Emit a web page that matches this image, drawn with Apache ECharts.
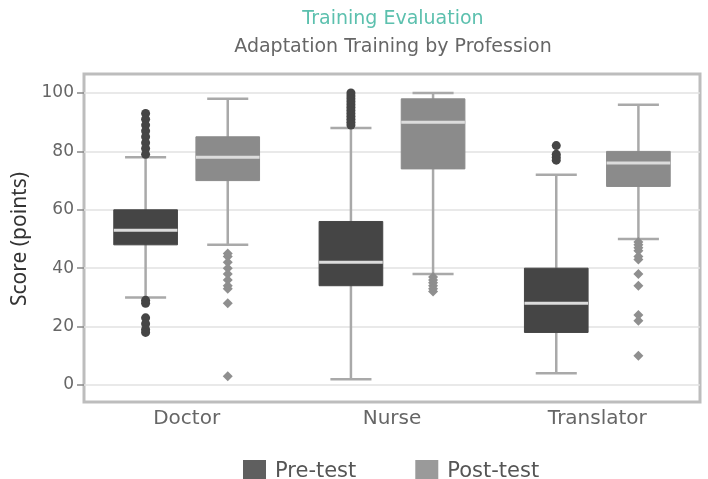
<!DOCTYPE html>
<html>
<head>
<meta charset="utf-8">
<script src="https://cdn.jsdelivr.net/npm/echarts@6/dist/echarts.min.js"></script>
<style>
  html, body { margin: 0; padding: 0; background: #fff; }
  #main { width: 708px; height: 479px; }
</style>
</head>
<body>
<div id="main"></div>
<script>
// categories on the x axis
var professions = ['Doctor', 'Nurse', 'Translator'];
var seriesNames = ['Pre-test', 'Post-test'];
var yTicks = [0, 20, 40, 60, 80, 100];

// [lower whisker, q1, median, q3, upper whisker]
var preStats = [
  [30, 48, 53, 60, 78],
  [2, 34, 42, 56, 88],
  [4, 18, 28, 40, 72]
];
var postStats = [
  [48, 70, 78, 85, 98],
  [38, 74, 90, 98, 100],
  [50, 68, 76, 80, 96]
];

// outliers per profession
var preOutliers = [
  [93, 91, 89, 87, 85, 83, 81, 79, 29, 28, 23, 21, 19, 18],
  [100, 99, 98, 97, 96, 95, 94, 93, 92, 91, 90, 89],
  [82, 79, 78, 77]
];
var postOutliers = [
  [45, 44, 42, 40, 38, 36, 34, 33, 28, 3],
  [37, 36, 35, 34, 33, 32],
  [49, 48, 47, 46, 44, 43, 38, 34, 24, 22, 10]
];

var FONT = 'DejaVu Sans';

function toBoxData(stats) {
  return stats.map(function (s, i) { return [i].concat(s); });
}
function toPointData(outs) {
  var res = [];
  outs.forEach(function (list, i) {
    list.forEach(function (v) { res.push([i, v]); });
  });
  return res;
}

// side: -1 left (pre), +1 right (post)
function boxRenderer(side, fill) {
  return function (params, api) {
    var band = api.size([1, 0])[0];
    var cx = api.coord([api.value(0), 0])[0] + side * band * 0.2;
    var w = band * 0.31;
    var cap = band * 0.2;
    var yMin = api.coord([api.value(0), api.value(1)])[1];
    var yQ1 = api.coord([api.value(0), api.value(2)])[1];
    var yMed = api.coord([api.value(0), api.value(3)])[1];
    var yQ3 = api.coord([api.value(0), api.value(4)])[1];
    var yMax = api.coord([api.value(0), api.value(5)])[1];
    var whisker = { stroke: '#a9a9a9', lineWidth: 2.5 };
    return {
      type: 'group',
      children: [
        { type: 'line', shape: { x1: cx, y1: yMax, x2: cx, y2: yMin }, style: whisker },
        { type: 'line', shape: { x1: cx - cap / 2, y1: yMax, x2: cx + cap / 2, y2: yMax }, style: whisker },
        { type: 'line', shape: { x1: cx - cap / 2, y1: yMin, x2: cx + cap / 2, y2: yMin }, style: whisker },
        { type: 'rect', shape: { x: cx - w / 2, y: yQ3, width: w, height: yQ1 - yQ3 }, style: { fill: fill, stroke: fill, lineWidth: 1 } },
        { type: 'line', shape: { x1: cx - w / 2, y1: yMed, x2: cx + w / 2, y2: yMed }, style: { stroke: '#dcdcdc', lineWidth: 3 } }
      ]
    };
  };
}

function pointRenderer(side, fill, diamond) {
  return function (params, api) {
    var band = api.size([1, 0])[0];
    var pt = api.coord([api.value(0), api.value(1)]);
    var cx = pt[0] + side * band * 0.2;
    if (diamond) {
      return {
        type: 'polygon',
        shape: { points: [[cx, pt[1] - 5], [cx + 5, pt[1]], [cx, pt[1] + 5], [cx - 5, pt[1]]] },
        style: { fill: fill }
      };
    }
    return { type: 'circle', shape: { cx: cx, cy: pt[1], r: 4.5 }, style: { fill: fill } };
  };
}

var chart = echarts.init(document.getElementById('main'));

chart.setOption({
  animation: false,
  title: [
    {
      text: 'Training Evaluation',
      left: 388, top: 5, textAlign: 'center',
      textStyle: { color: '#5cc0ae', fontSize: 19, fontWeight: 'normal', fontFamily: FONT }
    },
    {
      text: 'Adaptation Training by Profession',
      left: 388, top: 33, textAlign: 'center',
      textStyle: { color: '#666', fontSize: 19, fontWeight: 'normal', fontFamily: FONT }
    }
  ],
  legend: {
    data: [
      { name: 'Pre-test', itemStyle: { color: '#5f5f5f' } },
      { name: 'Post-test', itemStyle: { color: '#9a9a9a' } }
    ],
    left: 238, top: 455,
    icon: 'rect',
    itemWidth: 23, itemHeight: 23, itemGap: 59,
    textStyle: { color: '#555', fontSize: 21, fontFamily: FONT, padding: [0, 0, 0, 4] }
  },
  graphic: [
    {
      type: 'rect', z: 0,
      shape: { x: 84, y: 74, width: 616, height: 328 },
      style: { fill: 'none', stroke: '#bdbdbd', lineWidth: 3 }
    }
  ],
  grid: { left: 84, right: 8, top: 93, bottom: 94 },
  xAxis: {
    type: 'category',
    data: professions,
    axisLine: { show: false },
    axisTick: { show: false },
    axisLabel: { color: '#666', fontSize: 20, fontFamily: FONT, margin: 24 }
  },
  yAxis: {
    type: 'value',
    min: yTicks[0], max: yTicks[yTicks.length - 1], interval: 20,
    name: 'Score (points)',
    nameLocation: 'middle', nameGap: 52,
    nameTextStyle: { color: '#333', fontSize: 21, fontFamily: 'Noto Sans' },
    axisLine: { show: false },
    axisTick: { show: true, length: 7, lineStyle: { color: '#888', width: 1.5 } },
    axisLabel: { color: '#666', fontSize: 17, fontFamily: FONT, margin: 10 },
    splitLine: { lineStyle: { color: '#e2e2e2', width: 1.5 } }
  },
  series: [
    {
      name: 'Pre-test', type: 'custom',
      itemStyle: { color: '#5f5f5f' },
      renderItem: boxRenderer(-1, '#454545'),
      encode: { x: 0, y: [1, 2, 3, 4, 5] },
      data: toBoxData(preStats)
    },
    {
      name: 'Post-test', type: 'custom',
      itemStyle: { color: '#9a9a9a' },
      renderItem: boxRenderer(1, '#8b8b8b'),
      encode: { x: 0, y: [1, 2, 3, 4, 5] },
      data: toBoxData(postStats)
    },
    {
      name: 'Pre-test outliers', type: 'custom',
      renderItem: pointRenderer(-1, '#454545', false),
      encode: { x: 0, y: 1 },
      data: toPointData(preOutliers)
    },
    {
      name: 'Post-test outliers', type: 'custom',
      renderItem: pointRenderer(1, '#8f8f8f', true),
      encode: { x: 0, y: 1 },
      data: toPointData(postOutliers)
    }
  ]
});
</script>
</body>
</html>
